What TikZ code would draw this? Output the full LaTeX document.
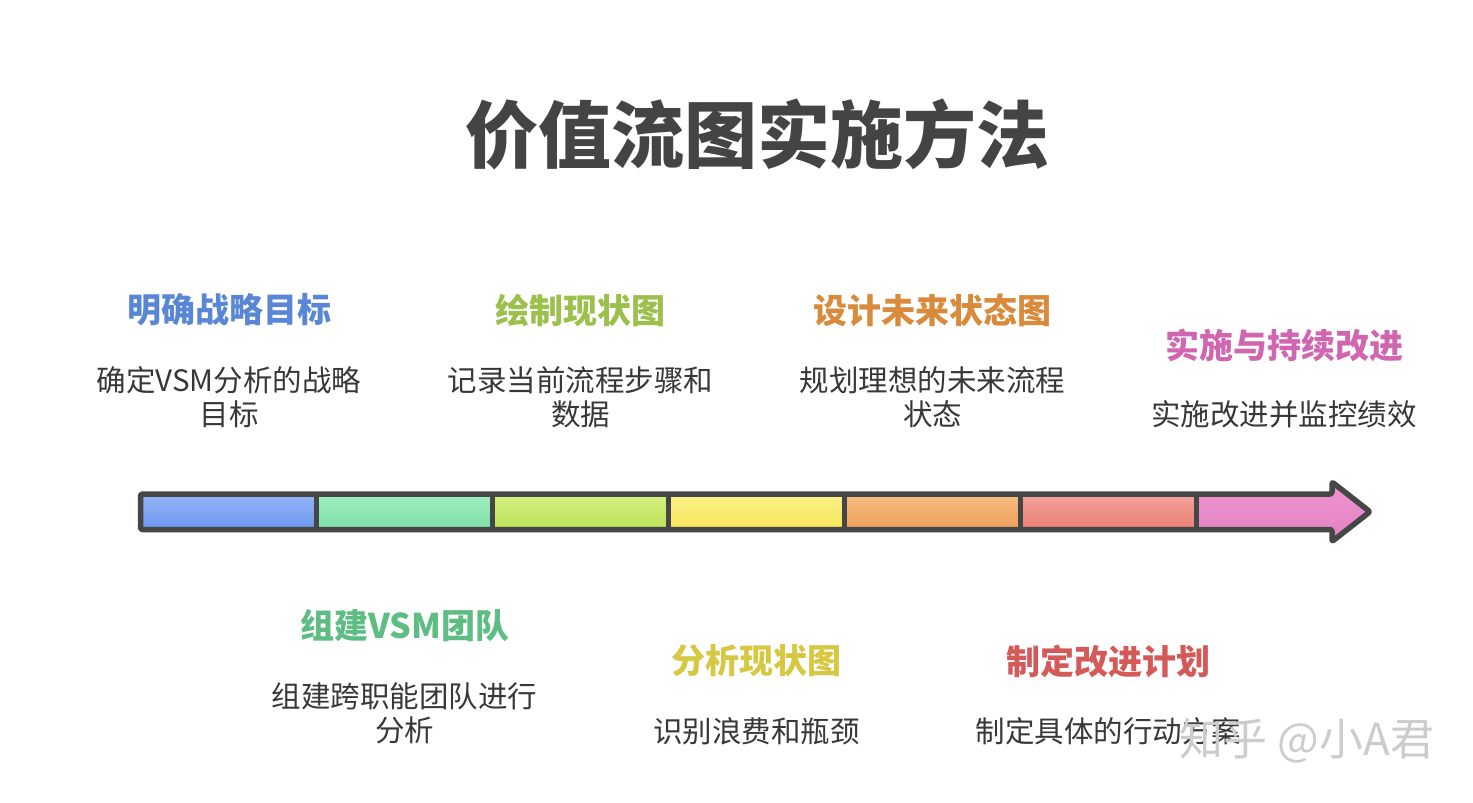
\documentclass[tikz,border=0pt]{standalone}
\usepackage{fontspec}
\setmainfont{Noto Sans CJK SC}
\newfontfamily\cjkfont{Noto Sans CJK SC}
\definecolor{barline}{HTML}{464646}
\definecolor{titlec}{HTML}{444444}
\definecolor{descc}{HTML}{383838}
\definecolor{hblue}{HTML}{5A86D6}
\definecolor{hgreen}{HTML}{5EBD82}
\definecolor{holive}{HTML}{9CC04C}
\definecolor{hyellow}{HTML}{D6C842}
\definecolor{horange}{HTML}{D98A3A}
\definecolor{hred}{HTML}{D45A5A}
\definecolor{hpink}{HTML}{D066B0}
\definecolor{s1t}{HTML}{93B6F8}\definecolor{s1b}{HTML}{6C95EF}
\definecolor{s2t}{HTML}{A0EEC2}\definecolor{s2b}{HTML}{7CE0A6}
\definecolor{s3t}{HTML}{D4EF80}\definecolor{s3b}{HTML}{BAE258}
\definecolor{s4t}{HTML}{FBF18A}\definecolor{s4b}{HTML}{F6E458}
\definecolor{s5t}{HTML}{F6BE82}\definecolor{s5b}{HTML}{EE9E5A}
\definecolor{s6t}{HTML}{F1A29B}\definecolor{s6b}{HTML}{EC7E72}
\definecolor{s7t}{HTML}{EC96D0}\definecolor{s7b}{HTML}{E580C3}
\tikzset{
  titletext/.style={font={\cjkfont\bfseries\fontsize{73}{80}\selectfont}, text=titlec, inner sep=0pt},
  headtext/.style={font={\cjkfont\bfseries\fontsize{34}{38}\selectfont}, inner sep=0pt},
  desctext/.style={font={\cjkfont\fontsize{29.5}{34}\selectfont}, text=descc, align=center, inner sep=0pt},
  barstroke/.style={draw=barline, line width=5.5pt, line join=round},
  wmark/.style={font={\cjkfont\fontsize{44}{48}\selectfont}, text=black!20, inner sep=0pt}
}
\begin{document}
\begin{tikzpicture}[x=1pt,y=-1pt]
\useasboundingbox (0,0) rectangle (1473,803);
\fill[white] (0,0) rectangle (1473,803);
% title
\node[titletext] (title) at (757,134) {价值流图实施方法};
% segments
\shade[top color=s1t, bottom color=s1b] (140.5,494) rectangle (316.5,529.5);
\shade[top color=s2t, bottom color=s2b] (316.5,494) rectangle (492.5,529.5);
\shade[top color=s3t, bottom color=s3b] (492.5,494) rectangle (668.5,529.5);
\shade[top color=s4t, bottom color=s4b] (668.5,494) rectangle (844.5,529.5);
\shade[top color=s5t, bottom color=s5b] (844.5,494) rectangle (1020.5,529.5);
\shade[top color=s6t, bottom color=s6b] (1020.5,494) rectangle (1196.5,529.5);
\shade[top color=s7t, bottom color=s7b] (1196.5,494) -- (1332,494) -- (1332,482) -- (1370,511.75) -- (1332,541.5) -- (1332,529.5) -- (1196.5,529.5) -- cycle;
% outline
\draw[barstroke, rounded corners=2pt] (140.5,494) -- (1332,494) -- (1332,482) -- (1370,511.75) -- (1332,541.5) -- (1332,529.5) -- (140.5,529.5) -- cycle;
\foreach \xx in {316.5,492.5,668.5,844.5,1020.5,1196.5}{
  \draw[barstroke, line cap=butt] (\xx,494) -- (\xx,529.5);
}
% top labels
\node[headtext, text=hblue] (h1) at (229,310) {明确战略目标};
\node[desctext] (d1) at (229,397) {确定VSM分析的战略\\目标};
\node[headtext, text=holive] (h3) at (580.5,310) {绘制现状图};
\node[desctext] (d3) at (580.5,397) {记录当前流程步骤和\\数据};
\node[headtext, text=horange] (h5) at (932.5,310) {设计未来状态图};
\node[desctext] (d5) at (932.5,397) {规划理想的未来流程\\状态};
\node[headtext, text=hpink] (h7) at (1284,345) {实施与持续改进};
\node[desctext] (d7) at (1284,414) {实施改进并监控绩效};
% bottom labels
\node[headtext, text=hgreen] (h2) at (404.5,626) {组建VSM团队};
\node[desctext] (d2) at (404.5,713) {组建跨职能团队进行\\分析};
\node[headtext, text=hyellow] (h4) at (756.5,661) {分析现状图};
\node[desctext] (d4) at (756.5,731) {识别浪费和瓶颈};
\node[headtext, text=hred] (h6) at (1108.5,661) {制定改进计划};
\node[desctext] (d6) at (1108.5,731) {制定具体的行动方案};
% watermark
\node[wmark] (wm) at (1307,741) {知乎 @小A君};
\end{tikzpicture}
\end{document}
